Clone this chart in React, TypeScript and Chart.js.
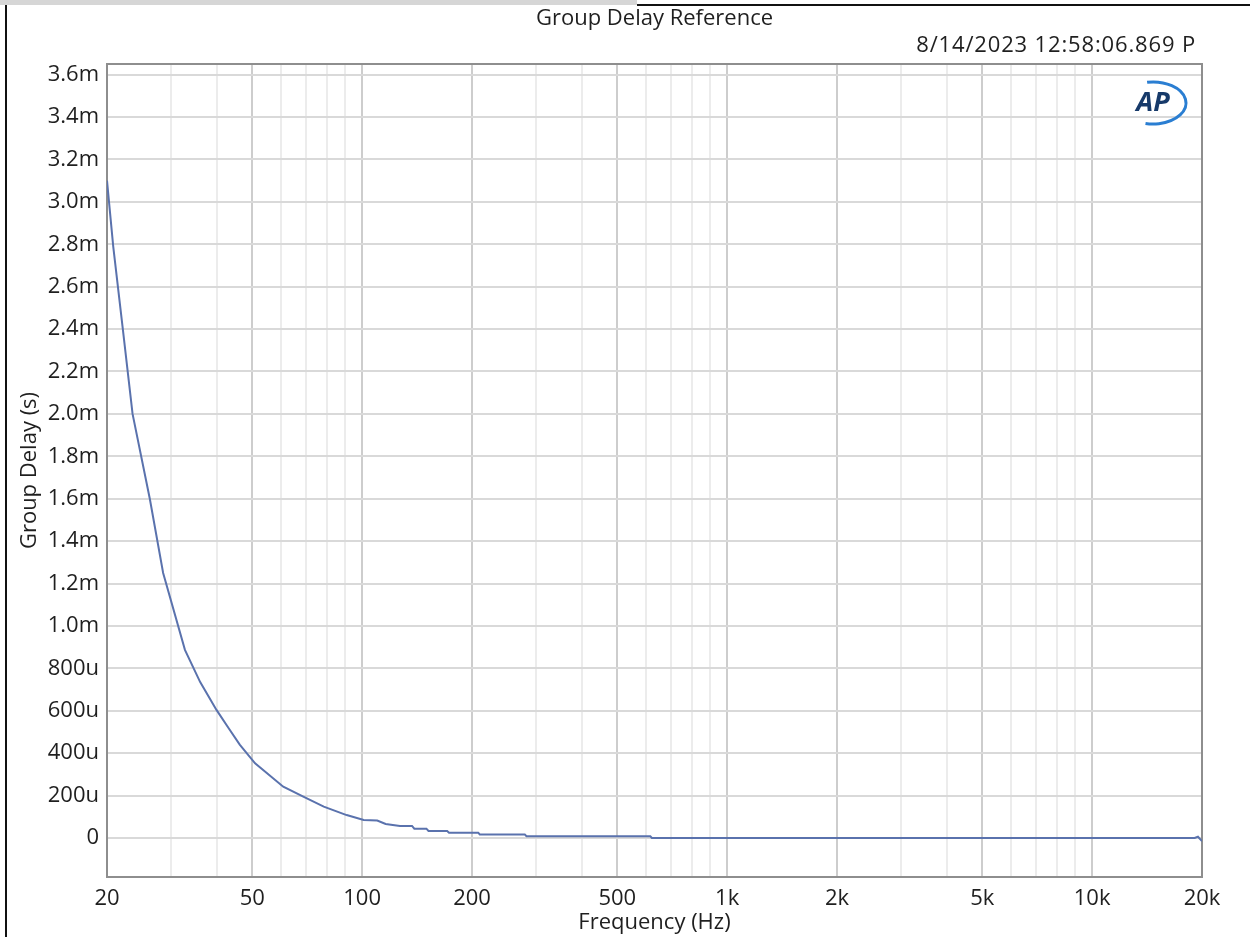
import React, { useEffect, useRef } from 'react';
import { Chart, registerables } from 'chart.js';

Chart.register(...registerables);

const TITLE = 'Group Delay Reference';
const TIMESTAMP = '8/14/2023 12:58:06.869 P';
const X_TITLE = 'Frequency (Hz)';
const Y_TITLE = 'Group Delay (s)';

// Measured trace (frequency in Hz, group delay in seconds)
const FREQ_HZ = [
  20, 20.8, 22.1, 23.5, 26.2, 28.5, 32.7, 36, 39.9, 43, 46.2, 50.9, 60.8, 69,
  78.5, 90.7, 101, 110, 116, 127, 137, 139, 150, 152, 171, 173, 208, 210, 279,
  282, 616, 622, 19100, 19500, 20000,
];
const DELAY_S = [
  3.1e-3, 2.79e-3, 2.4e-3, 2.0e-3, 1.6e-3, 1.25e-3, 0.887e-3, 0.735e-3,
  0.604e-3, 0.52e-3, 0.44e-3, 0.352e-3, 0.242e-3, 0.195e-3, 0.148e-3,
  0.108e-3, 0.085e-3, 0.082e-3, 0.066e-3, 0.057e-3, 0.057e-3, 0.044e-3,
  0.044e-3, 0.033e-3, 0.033e-3, 0.025e-3, 0.025e-3, 0.017e-3, 0.017e-3,
  0.008e-3, 0.008e-3, 0, 0, 0.006e-3, -0.015e-3,
];

const X_LABEL_TICKS = [20, 50, 100, 200, 500, 1000, 2000, 5000, 10000, 20000];
const X_LABELS = ['20', '50', '100', '200', '500', '1k', '2k', '5k', '10k', '20k'];
const Y_TICKS = [
  0, 0.0002, 0.0004, 0.0006, 0.0008, 0.001, 0.0012, 0.0014, 0.0016, 0.0018,
  0.002, 0.0022, 0.0024, 0.0026, 0.0028, 0.003, 0.0032, 0.0034, 0.0036,
];
const Y_LABELS = [
  '0', '200u', '400u', '600u', '800u', '1.0m', '1.2m', '1.4m', '1.6m', '1.8m',
  '2.0m', '2.2m', '2.4m', '2.6m', '2.8m', '3.0m', '3.2m', '3.4m', '3.6m',
];
const X_MIN = 20;
const X_MAX = 20000;
const Y_MIN = -0.000184;
const Y_MAX = 0.00365;

const FONT = '"Open Sans", "Noto Sans", sans-serif';
const TEXT = '#1f1f1f';
const FONT_SIZE = 22;

function xGridValues(): number[] {
  const out: number[] = [];
  for (let d = 10; d <= 10000; d *= 10) {
    for (let m = 1; m <= 9; m++) {
      const v = m * d;
      if (v >= X_MIN && v <= X_MAX) out.push(v);
    }
  }
  out.push(20000);
  return Array.from(new Set(out));
}

function labelIndex(v: number): number {
  return X_LABEL_TICKS.findIndex((t) => Math.abs(t - v) < 1e-6 * t);
}

const decorPlugin = {
  id: 'decor',
  beforeDatasetsDraw(chart: any) {
    const { ctx, chartArea: a } = chart;
    ctx.save();
    ctx.strokeStyle = '#8e8e8e';
    ctx.lineWidth = 2;
    ctx.strokeRect(a.left, a.top, a.right - a.left, a.bottom - a.top);
    ctx.restore();
  },
  afterDraw(chart: any) {
    const { ctx, chartArea: a } = chart;
    ctx.save();
    ctx.fillStyle = TEXT;
    ctx.font = `${FONT_SIZE}px ${FONT}`;
    ctx.textBaseline = 'middle';
    ctx.textAlign = 'center';
    ctx.fillText(TITLE, (a.left + a.right) / 2, 19);
    ctx.textAlign = 'right';
    (ctx as any).letterSpacing = '0.85px';
    ctx.fillText(TIMESTAMP, a.right - 6, 46);
    (ctx as any).letterSpacing = '0px';
    // AP logo
    const cx = a.right - 50;
    const cy = a.top + 39;
    ctx.font = `italic bold 27px ${FONT}`;
    ctx.fillStyle = '#173a6a';
    ctx.textAlign = 'center';
    ctx.fillText('AP', cx + 1, cy);
    ctx.beginPath();
    ctx.ellipse(cx + 1, cy, 33, 21, 0, -1.75, 1.8);
    ctx.strokeStyle = '#2a7ed2';
    ctx.lineWidth = 3;
    ctx.stroke();
    ctx.restore();
  },
};

export default function App() {
  const canvasRef = useRef<HTMLCanvasElement | null>(null);

  useEffect(() => {
    const canvas = canvasRef.current;
    if (!canvas) return;
    const gridVals = xGridValues();
    const points = FREQ_HZ.map((f, i) => ({ x: f, y: DELAY_S[i] }));

    const chart = new Chart(canvas, {
      type: 'line',
      data: {
        datasets: [
          {
            label: 'Group Delay',
            data: points,
            borderColor: '#5a72ad',
            borderWidth: 2,
            pointRadius: 0,
            tension: 0,
            fill: false,
          },
        ],
      },
      options: {
        animation: false,
        responsive: false,
        events: [],
        layout: { padding: { left: 0, top: 64, right: 48, bottom: 0 } },
        plugins: {
          legend: { display: false },
          tooltip: { enabled: false },
          title: { display: false },
        },
        scales: {
          x: {
            type: 'logarithmic',
            min: X_MIN,
            max: X_MAX,
            afterBuildTicks: (scale: any) => {
              scale.ticks = gridVals.map((v) => ({ value: v }));
            },
            afterFit: (scale: any) => {
              scale.height = 60;
            },
            ticks: {
              autoSkip: false,
              maxRotation: 0,
              minRotation: 0,
              padding: 9,
              color: TEXT,
              font: { family: FONT, size: FONT_SIZE },
              callback: (value: any) => {
                const k = labelIndex(Number(value));
                return k >= 0 ? X_LABELS[k] : '';
              },
            },
            grid: {
              drawTicks: false,
              lineWidth: 2,
              color: (c: any) =>
                c.tick && labelIndex(c.tick.value) >= 0 ? '#cdcdcd' : '#ececec',
            },
            border: { display: true, color: '#8e8e8e', width: 2 },
            title: {
              display: true,
              text: X_TITLE,
              color: TEXT,
              font: { family: FONT, size: FONT_SIZE },
              padding: { top: 0, bottom: 1 },
            },
          },
          y: {
            type: 'linear',
            min: Y_MIN,
            max: Y_MAX,
            afterBuildTicks: (scale: any) => {
              scale.ticks = Y_TICKS.map((v) => ({ value: v }));
            },
            afterFit: (scale: any) => {
              scale.width = 107;
            },
            ticks: {
              autoSkip: false,
              padding: 8,
              color: TEXT,
              font: { family: FONT, size: FONT_SIZE },
              callback: (value: any) => {
                const v = Number(value);
                const k = Y_TICKS.findIndex((t) => Math.abs(t - v) < 1e-9);
                return k >= 0 ? Y_LABELS[k] : '';
              },
            },
            grid: {
              drawTicks: false,
              lineWidth: 2,
              color: '#d9d9d9',
            },
            border: { display: true, color: '#8e8e8e', width: 2 },
            title: {
              display: true,
              text: Y_TITLE,
              color: TEXT,
              font: { family: FONT, size: FONT_SIZE },
              padding: { top: 17, bottom: 0 },
            },
          },
        },
      },
      plugins: [decorPlugin],
    });
    return () => chart.destroy();
  }, []);

  return (
    <div
      style={{
        position: 'absolute',
        left: 0,
        top: 0,
        width: 1250,
        height: 937,
        background: '#ffffff',
        overflow: 'hidden',
      }}
    >
      <canvas
        ref={canvasRef}
        width={1250}
        height={937}
        style={{ display: 'block', position: 'absolute', left: 0, top: 0 }}
      />
      <div style={{ position: 'absolute', left: 0, top: 0, width: 637, height: 5, background: '#d6d6d6' }} />
      <div style={{ position: 'absolute', left: 637, top: 4, width: 613, height: 2, background: '#111' }} />
      <div style={{ position: 'absolute', left: 5, top: 5, width: 2, height: 932, background: '#111' }} />
    </div>
  );
}
